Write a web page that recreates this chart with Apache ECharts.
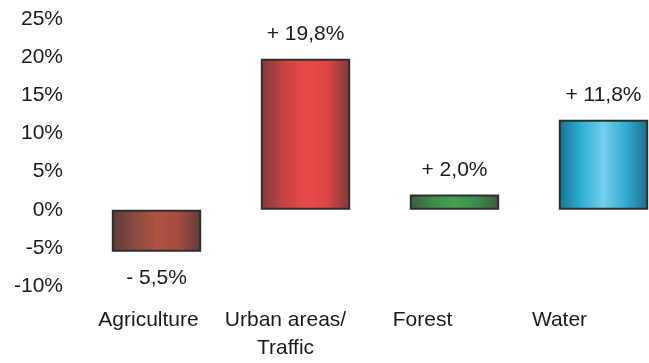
<!DOCTYPE html>
<html>
<head>
<meta charset="utf-8">
<script src="https://cdn.jsdelivr.net/npm/echarts@6/dist/echarts.min.js"></script>
<style>html,body{margin:0;padding:0;background:#fff;}#c{width:649px;height:363px;}</style>
</head>
<body>
<div id="c"></div>
<script>
var categories = ['Agriculture', 'Urban areas/\nTraffic', 'Forest', 'Water'];
var values = [-5.5, 19.8, 2.0, 11.8];
var yMin = -10, yMax = 25, yStep = 5;

var gradients = [
  ['#5e3c3c', '#8a4840', '#b0533f', '#a44c40', '#5e3c3c'],
  ['#7c3a3a', '#c84242', '#e84949', '#dc4545', '#7c3a3a'],
  ['#3c5a40', '#3f8a4c', '#45a052', '#3f8a4c', '#3c5a40'],
  ['#1a7090', '#2cb0d4', '#74cdee', '#30acd0', '#1a6c8a']
];
function grad(c) {
  return new echarts.graphic.LinearGradient(0, 0, 1, 0, [
    {offset: 0, color: c[0]}, {offset: 0.25, color: c[1]},
    {offset: 0.5, color: c[2]}, {offset: 0.75, color: c[3]}, {offset: 1, color: c[4]}
  ]);
}
var font = 'Liberation Sans, Arial, sans-serif';
var fs = 21;
var chart = echarts.init(document.getElementById('c'));
chart.setOption({
  animation: false,
  backgroundColor: '#fff',
  grid: [
    {left: 82, top: 19, right: -29, height: 267, outerBoundsMode: 'none', containLabel: false},
    {left: 80, top: 19, width: 548, height: 267, outerBoundsMode: 'none', containLabel: false}
  ],
  xAxis: [
    {type: 'category', gridIndex: 0, data: categories, axisLine: {show: false}, axisTick: {show: false}, axisLabel: {show: false}},
    {type: 'category', gridIndex: 1, data: categories, axisLine: {show: false}, axisTick: {show: false},
     axisLabel: {fontFamily: font, fontSize: fs, color: '#1a1a1a', lineHeight: 28, margin: 20, interval: 0}}
  ],
  yAxis: [
    {type: 'value', gridIndex: 0, min: yMin, max: yMax, interval: yStep,
     axisLine: {show: false}, axisTick: {show: false}, splitLine: {show: false},
     axisLabel: {formatter: '{value}%', fontFamily: font, fontSize: fs, color: '#1a1a1a', margin: 19}},
    {type: 'value', gridIndex: 1, min: yMin, max: yMax, show: false}
  ],
  series: [{
    type: 'bar',
    xAxisIndex: 0, yAxisIndex: 0,
    barWidth: '60%',
    data: values.map(function (v, i) {
      return {
        value: v,
        itemStyle: {color: grad(gradients[i]), borderColor: '#2e2e2e', borderWidth: 2},
        label: {position: v < 0 ? 'bottom' : 'top', distance: v < 0 ? 16 : 14}
      };
    }),
    label: {
      show: true, fontFamily: font, fontSize: fs, color: '#1a1a1a', lineHeight: 21,
      formatter: function (p) {
        var v = p.value;
        return (v < 0 ? '- ' : '+ ') + Math.abs(v).toFixed(1).replace('.', ',') + '%';
      }
    }
  }]
});
</script>
</body>
</html>
